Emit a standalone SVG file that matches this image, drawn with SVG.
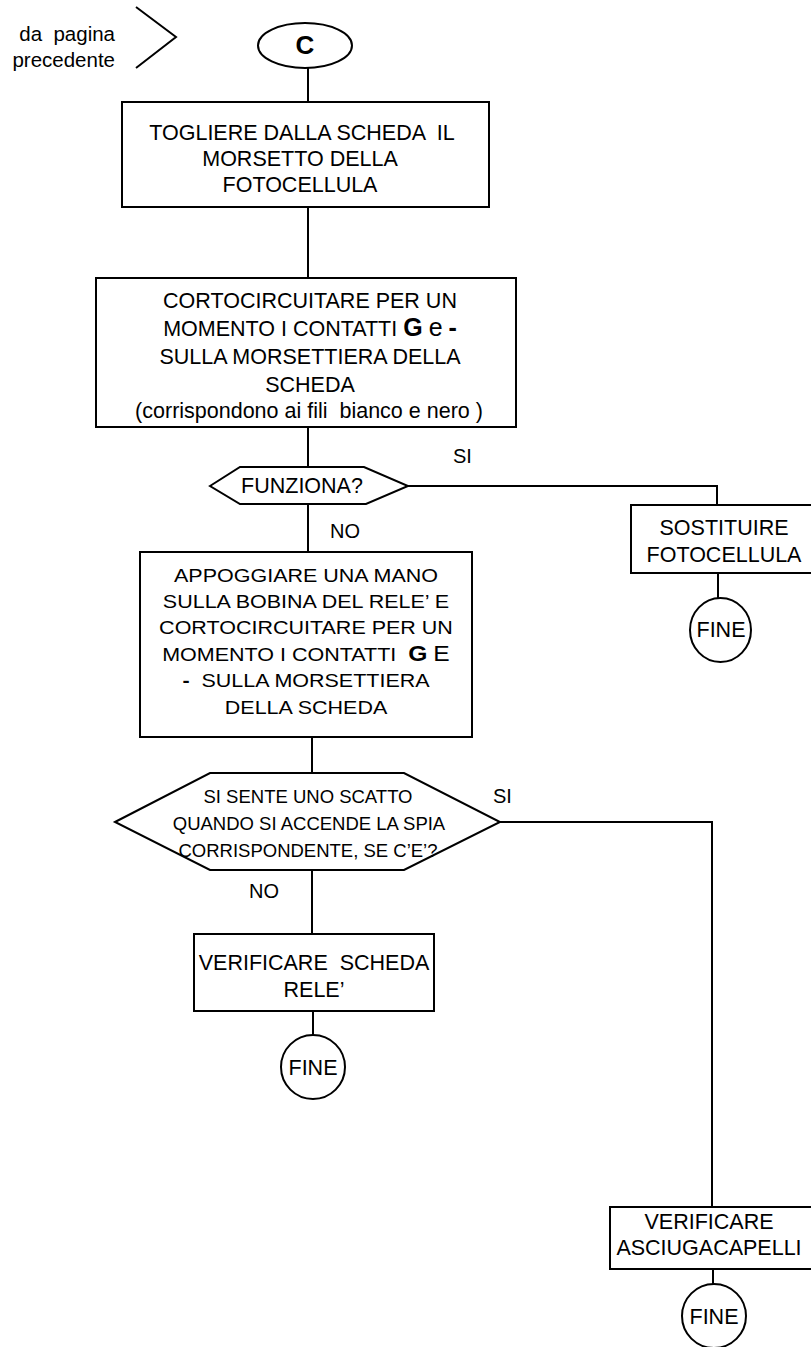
<svg xmlns="http://www.w3.org/2000/svg" width="811" height="1347" viewBox="0 0 811 1347">
<style>
  .shape { fill: #ffffff; stroke: #000000; stroke-width: 2; }
  .conn { fill: none; stroke: #000000; stroke-width: 2; }
  .t { font-family: "Liberation Sans", Arial, sans-serif; font-size: 21.5px; fill: #000000; text-anchor: middle; white-space: pre; }
  .s { font-size: 18.5px; }
  .b { font-weight: bold; }
  .lbl { font-family: "Liberation Sans", Arial, sans-serif; font-size: 20px; fill: #000000; }
</style>
<rect x="0" y="0" width="811" height="1347" fill="#ffffff"/>

<g id="connectors">
  <line class="conn" x1="308" y1="68" x2="308" y2="102"/>
  <line class="conn" x1="308" y1="207" x2="308" y2="278"/>
  <line class="conn" x1="308" y1="427" x2="308" y2="467"/>
  <line class="conn" x1="308" y1="505" x2="308" y2="552"/>
  <polyline class="conn" points="408,486 717,486 717,505"/>
  <line class="conn" x1="718" y1="573" x2="718" y2="598"/>
  <line class="conn" x1="312" y1="737" x2="312" y2="773"/>
  <line class="conn" x1="312" y1="870" x2="312" y2="934"/>
  <line class="conn" x1="313" y1="1011" x2="313" y2="1035"/>
  <polyline class="conn" points="500,822 712,822 712,1207"/>
  <line class="conn" x1="713" y1="1269" x2="713" y2="1284"/>
  <text class="lbl" x="453" y="463">SI</text>
  <text class="lbl" x="330" y="538">NO</text>
  <text class="lbl" x="493" y="803">SI</text>
  <text class="lbl" x="249" y="898">NO</text>
</g>

<g id="from-prev">
  <polyline class="conn" points="136,7 176,37 136,68"/>
  <text class="t" xml:space="preserve" style="text-anchor:end;font-size:20.5px" x="115" y="41">da  pagina</text>
  <text class="t" style="text-anchor:end;font-size:20.5px" x="115" y="67">precedente</text>
</g>

<g id="start-C">
  <ellipse class="shape" cx="305" cy="45.5" rx="47" ry="22.5"/>
  <text class="t b" style="font-size:26px" x="305" y="54">C</text>
</g>

<g id="box-togliere">
  <rect class="shape" x="122" y="102" width="367" height="105"/>
  <text class="t" xml:space="preserve" x="302" y="140">TOGLIERE DALLA SCHEDA  IL</text>
  <text class="t" x="300" y="166">MORSETTO DELLA</text>
  <text class="t" x="300" y="192">FOTOCELLULA</text>
</g>

<g id="box-cortocircuitare">
  <rect class="shape" x="96" y="278" width="420" height="149"/>
  <text class="t" x="310" y="308">CORTOCIRCUITARE PER UN</text>
  <text class="t" x="310" y="336">MOMENTO I CONTATTI <tspan class="b" style="font-size:25px">G</tspan> <tspan style="font-size:25px">e</tspan> <tspan class="b" style="font-size:25px">-</tspan></text>
  <text class="t" x="310" y="364">SULLA MORSETTIERA DELLA</text>
  <text class="t" x="310" y="392">SCHEDA</text>
  <text class="t" xml:space="preserve" x="309" y="418">(corrispondono ai fili  bianco e nero )</text>
</g>

<g id="dec-funziona">
  <polygon class="shape" points="210,486 240,467 364,467 408,486 366,504 240,504"/>
  <text class="t" x="302" y="493">FUNZIONA?</text>
</g>

<g id="box-sostituire">
  <rect class="shape" x="631" y="505" width="190" height="68"/>
  <text class="t" x="724" y="535">SOSTITUIRE</text>
  <text class="t" x="724" y="562">FOTOCELLULA</text>
</g>

<g id="fine-1">
  <ellipse class="shape" cx="720.5" cy="630" rx="30.5" ry="32"/>
  <text class="t" x="721" y="637">FINE</text>
</g>

<g id="box-appoggiare">
  <rect class="shape" x="140" y="552" width="332" height="185"/>
  <g transform="translate(306,0) scale(1.12,1)">
    <text class="t" style="font-size:19.2px" x="0" y="582">APPOGGIARE UNA MANO</text>
    <text class="t" style="font-size:19.2px" x="0" y="608">SULLA BOBINA DEL RELE’ E</text>
    <text class="t" style="font-size:19.2px" x="0" y="634">CORTOCIRCUITARE PER UN</text>
    <text class="t" xml:space="preserve" style="font-size:19.2px" x="0" y="661">MOMENTO I CONTATTI  <tspan class="b" style="font-size:22px">G</tspan> <tspan style="font-size:22px">E</tspan></text>
    <text class="t" xml:space="preserve" style="font-size:19.2px" x="0" y="687"><tspan class="b">-</tspan>  SULLA MORSETTIERA</text>
    <text class="t" style="font-size:19.2px" x="0" y="714">DELLA SCHEDA</text>
  </g>
</g>

<g id="dec-scatto">
  <polygon class="shape" points="115,822 210,773 404,773 500,822 404,870 210,870"/>
  <text class="t s" x="308" y="803">SI SENTE UNO SCATTO</text>
  <text class="t s" x="309" y="830">QUANDO SI ACCENDE LA SPIA</text>
  <text class="t s" x="308" y="857">CORRISPONDENTE, SE C’E’?</text>
</g>

<g id="box-verificare-scheda">
  <rect class="shape" x="194" y="934" width="240" height="77"/>
  <text class="t" xml:space="preserve" x="314" y="970">VERIFICARE  SCHEDA</text>
  <text class="t" x="314" y="997">RELE’</text>
</g>

<g id="fine-2">
  <circle class="shape" cx="313" cy="1067" r="32"/>
  <text class="t" x="313" y="1075">FINE</text>
</g>

<g id="box-verificare-asciugacapelli">
  <rect class="shape" x="610" y="1207" width="210" height="62"/>
  <text class="t" x="709" y="1229">VERIFICARE</text>
  <text class="t" x="709" y="1255">ASCIUGACAPELLI</text>
</g>

<g id="fine-3">
  <circle class="shape" cx="714" cy="1316" r="32"/>
  <text class="t" x="714" y="1324">FINE</text>
</g>
</svg>
